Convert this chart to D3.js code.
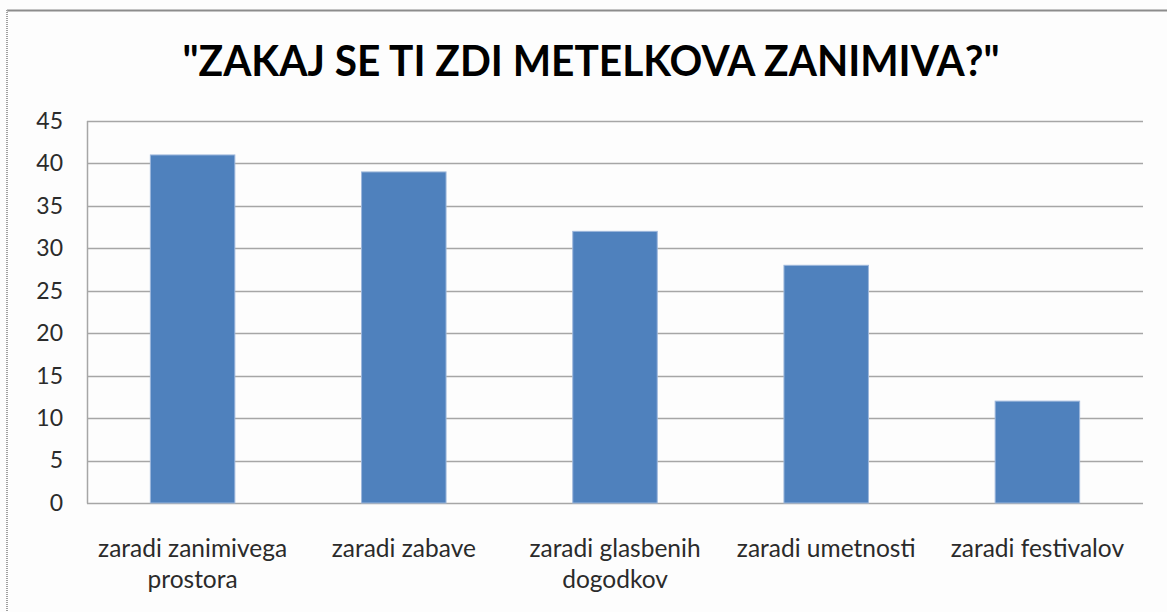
<!DOCTYPE html>
<html>
<head>
<meta charset="utf-8">
<script src="https://cdn.jsdelivr.net/npm/d3@7"></script>
<style>
  html, body { margin: 0; padding: 0; background: #fff; }
  svg { display: block; }
</style>
</head>
<body>
<script>
const categories = [
  ["zaradi zanimivega", "prostora"],
  ["zaradi zabave"],
  ["zaradi glasbenih", "dogodkov"],
  ["zaradi umetnosti"],
  ["zaradi festivalov"]
];
const values = [41, 39, 32, 28, 12];
const yTicks = [0, 5, 10, 15, 20, 25, 30, 35, 40, 45];
const title = "\"ZAKAJ SE TI ZDI METELKOVA ZANIMIVA?\"";

const W = 1167, H = 612;
const plot = { left: 87, right: 1143, top: 121, bottom: 503 };
const font = "Lato, 'Open Sans', sans-serif";

const svg = d3.select("body").append("svg").attr("width", W).attr("height", H);
svg.append("rect").attr("width", W).attr("height", H).attr("fill", "#fdfdfd");

// outer chart border (top and left visible)
svg.append("line").attr("x1", 7).attr("x2", W).attr("y1", 10.5).attr("y2", 10.5)
  .attr("stroke", "#8c8c8c").attr("stroke-width", 2);
svg.append("line").attr("x1", 7).attr("x2", 7).attr("y1", 10).attr("y2", H)
  .attr("stroke", "#a0a0a0").attr("stroke-width", 2).attr("stroke-dasharray", "1,1");

const keys = categories.map((c, i) => i);
const x = d3.scaleBand().domain(keys).range([plot.left, plot.right])
  .paddingInner(0.6).paddingOuter(0.3);
const y = d3.scaleLinear().domain([0, 45]).range([plot.bottom, plot.top]);

// gridlines
svg.append("g").selectAll("line").data(yTicks).join("line")
  .attr("x1", plot.left).attr("x2", plot.right)
  .attr("y1", d => Math.round(y(d)) + 0.5).attr("y2", d => Math.round(y(d)) + 0.5)
  .attr("stroke", "#a6a6a6").attr("stroke-width", 1.5);
// left axis line
svg.append("line").attr("x1", plot.left + 0.5).attr("x2", plot.left + 0.5)
  .attr("y1", plot.top).attr("y2", plot.bottom + 0.5)
  .attr("stroke", "#a6a6a6").attr("stroke-width", 1.5);

// y axis labels
const yAxis = d3.axisLeft(y).tickValues(yTicks).tickSize(0).tickPadding(24);
const ya = svg.append("g").attr("transform", `translate(${plot.left},0)`).call(yAxis);
ya.select(".domain").remove();
ya.selectAll("text").attr("font-family", font).attr("font-size", 23)
  .attr("fill", "#2b2b2b");

// bars
svg.append("g").selectAll("rect").data(values).join("rect")
  .attr("x", (d, i) => x(i)).attr("width", x.bandwidth())
  .attr("y", d => y(d)).attr("height", d => y(0) - y(d))
  .attr("fill", "#4f81bd").attr("stroke", "#9db7db").attr("stroke-width", 1);

// x labels
const xl = svg.append("g").selectAll("text").data(categories).join("text")
  .attr("x", (d, i) => x(i) + x.bandwidth() / 2)
  .attr("y", 557)
  .attr("text-anchor", "middle")
  .attr("font-family", font).attr("font-size", 24.5).attr("fill", "#2b2b2b");
xl.each(function(d) {
  const t = d3.select(this);
  d.forEach((line, j) => {
    t.append("tspan").attr("x", t.attr("x")).attr("dy", j === 0 ? 0 : 31).text(line);
  });
});

// title
svg.append("text").attr("x", 591).attr("y", 76)
  .attr("text-anchor", "middle")
  .attr("font-family", font).attr("font-weight", "bold").attr("font-size", 42)
  .attr("textLength", 817).attr("lengthAdjust", "spacingAndGlyphs")
  .attr("fill", "#000").text(title);
</script>
</body>
</html>
